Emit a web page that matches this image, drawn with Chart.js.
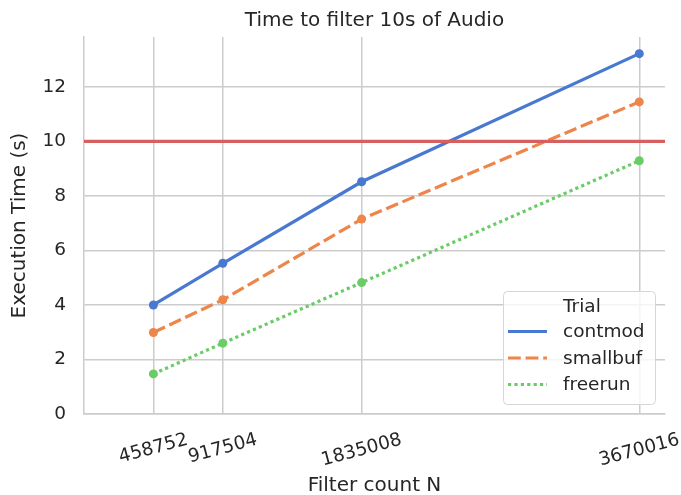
<!DOCTYPE html>
<html lang="en">
<head>
    <meta charset="UTF-8">
    <title>Time to filter 10s of Audio</title>
    <script src="https://cdn.jsdelivr.net/npm/chart.js"></script>
    <style>
        html, body { margin: 0; padding: 0; background: #ffffff; }
        #wrap { width: 681px; height: 495px; }
    </style>
</head>
<body>
    <div id="wrap"><canvas id="timing-chart"></canvas></div>
    <script>
        // values
        const filterCounts = [458752, 917504, 1835008, 3670016];
        const xTickLabels = ['458752', '917504', '1835008', '3670016'];
        const trialNames = ['contmod', 'smallbuf', 'freerun'];
        const contmodTimes = [4.00, 5.53, 8.52, 13.22];
        const smallbufTimes = [2.99, 4.19, 7.15, 11.45];
        const freerunTimes = [1.47, 2.60, 4.82, 9.29];
        const yTicks = [0, 2, 4, 6, 8, 10, 12];
        const realTimeLimit = 10;

        const textColor = '#262626';
        const gridColor = '#cccccc';
        const fontFamily = '"DejaVu Sans", sans-serif';

        const lineStyles = [
            { color: '#4878d0', dash: [] },
            { color: '#ee854a', dash: [12.8, 4.8] },
            { color: '#6acc64', dash: [3.2, 3.2] }
        ];

        function toPoints(times) {
            return filterCounts.map((n, i) => ({ x: n, y: times[i] }));
        }

        const datasets = [contmodTimes, smallbufTimes, freerunTimes].map((times, i) => ({
            label: trialNames[i],
            data: toPoints(times),
            borderColor: lineStyles[i].color,
            backgroundColor: lineStyles[i].color,
            borderDash: lineStyles[i].dash,
            borderCapStyle: 'butt',
            borderWidth: 3.2,
            pointRadius: 4.5,
            pointBorderWidth: 0,
            pointBackgroundColor: lineStyles[i].color,
            tension: 0
        }));

        // title, rotated x labels, limit line and legend box
        const decorPlugin = {
            id: 'decor',
            afterDatasetsDraw(chart) {
                const ctx = chart.ctx;
                const area = chart.chartArea;
                const y = chart.scales.y.getPixelForValue(realTimeLimit);
                ctx.save();
                ctx.strokeStyle = '#d65f5f';
                ctx.lineWidth = 3.2;
                ctx.beginPath();
                ctx.moveTo(area.left, y);
                ctx.lineTo(area.right, y);
                ctx.stroke();
                ctx.restore();
            },
            afterDraw(chart) {
                const ctx = chart.ctx;
                const area = chart.chartArea;
                const xScale = chart.scales.x;
                ctx.save();
                ctx.fillStyle = textColor;

                // title
                ctx.font = '20px ' + fontFamily;
                ctx.textAlign = 'center';
                ctx.textBaseline = 'alphabetic';
                ctx.fillText('Time to filter 10s of Audio', (area.left + area.right) / 2, 26);

                // x tick labels, rotated 15deg about their centre
                ctx.font = '18.5px ' + fontFamily;
                const ang = 15 * Math.PI / 180;
                xTickLabels.forEach((lab, i) => {
                    const w = ctx.measureText(lab).width;
                    const h = 22;
                    const boxH = w * Math.sin(ang) + h * Math.cos(ang);
                    const px = xScale.getPixelForValue(filterCounts[i]);
                    const cy = area.bottom + 15 + boxH / 2;
                    ctx.save();
                    ctx.translate(px, cy);
                    ctx.rotate(-ang);
                    ctx.textAlign = 'center';
                    ctx.textBaseline = 'middle';
                    ctx.fillText(lab, 0, 0);
                    ctx.restore();
                });

                // legend
                const bx = 503, by = 291, bw = 152, bh = 113;
                ctx.beginPath();
                ctx.roundRect(bx + 0.5, by + 0.5, bw, bh, 4);
                ctx.fillStyle = 'rgba(255,255,255,0.8)';
                ctx.fill();
                ctx.strokeStyle = '#d6d6d6';
                ctx.lineWidth = 1;
                ctx.stroke();

                ctx.fillStyle = textColor;
                ctx.font = '18.5px ' + fontFamily;
                ctx.textAlign = 'left';
                ctx.textBaseline = 'middle';
                const textX = 563;
                ctx.fillText('Trial', textX, 307);
                const rows = [332.5, 359, 385.5];
                trialNames.forEach((name, i) => {
                    const ry = rows[i];
                    ctx.save();
                    ctx.strokeStyle = lineStyles[i].color;
                    ctx.lineWidth = 3.2;
                    ctx.lineCap = 'butt';
                    ctx.setLineDash(lineStyles[i].dash);
                    ctx.beginPath();
                    ctx.moveTo(508, ry - 1);
                    ctx.lineTo(547, ry - 1);
                    ctx.stroke();
                    ctx.restore();
                    ctx.fillText(name, textX, ry);
                });
                ctx.restore();
            }
        };

        new Chart(document.getElementById('timing-chart'), {
            type: 'line',
            data: { datasets: datasets },
            options: {
                responsive: true,
                maintainAspectRatio: false,
                animation: false,
                layout: { padding: { top: 37, right: 16, bottom: 0, left: 0 } },
                plugins: {
                    legend: { display: false },
                    title: { display: false },
                    tooltip: { enabled: false }
                },
                scales: {
                    x: {
                        type: 'linear',
                        min: 0,
                        max: 3840000,
                        afterBuildTicks: (scale) => {
                            scale.ticks = filterCounts.map(v => ({ value: v }));
                        },
                        afterFit: (scale) => { scale.height = 81; },
                        ticks: { display: false },
                        grid: { color: gridColor, lineWidth: 1.5, drawTicks: false },
                        border: { color: gridColor, width: 1.5 },
                        title: {
                            display: true,
                            text: 'Filter count N',
                            color: textColor,
                            font: { family: fontFamily, size: 20, lineHeight: 0.9 },
                            padding: 0
                        }
                    },
                    y: {
                        min: 0,
                        max: 13.83,
                        afterBuildTicks: (scale) => {
                            scale.ticks = yTicks.map(v => ({ value: v }));
                        },
                        afterFit: (scale) => { scale.width = 84; },
                        ticks: {
                            color: textColor,
                            padding: 18,
                            font: { family: fontFamily, size: 18.5 }
                        },
                        grid: { color: gridColor, lineWidth: 1.5, drawTicks: false },
                        border: { color: gridColor, width: 1.5 },
                        title: {
                            display: true,
                            text: 'Execution Time (s)',
                            color: textColor,
                            font: { family: fontFamily, size: 20, lineHeight: 1.2 },
                            padding: { top: 8, bottom: 0 }
                        }
                    }
                }
            },
            plugins: [decorPlugin]
        });
    </script>
</body>
</html>
